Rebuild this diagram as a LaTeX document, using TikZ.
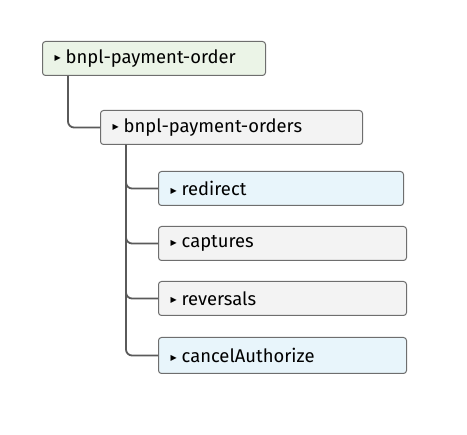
\documentclass[tikz,border=0pt]{standalone}
\usepackage{fontspec}
\setmainfont{Fira Sans}
\newfontfamily\symfont{DejaVu Sans}
\definecolor{bordercol}{HTML}{6E6E6E}
\definecolor{linecol}{HTML}{5A5A5A}
\definecolor{greenfill}{HTML}{EBF4E7}
\definecolor{grayfill}{HTML}{F3F3F3}
\definecolor{bluefill}{HTML}{E8F5FB}
\newcommand{\tri}{{\symfont\fontsize{8}{8}\selectfont\raisebox{2.5pt}{▶}}\hspace{5pt}}
\tikzset{
  box/.style={draw=bordercol, line width=1pt, rounded corners=3pt, anchor=north west,
    inner xsep=12pt, inner ysep=0pt, align=left, font=\fontsize{18.4}{20}\selectfont},
  conn/.style={draw=linecol, line width=1.8pt, rounded corners=6pt}
}
\begin{document}
\begin{tikzpicture}[x=1pt,y=-1pt]
\useasboundingbox (0,0) rectangle (467,435);
\node[box, fill=greenfill, text width=199pt, minimum height=34pt] (b1) at (42,41) {\tri bnpl-payment-order};
\node[box, fill=grayfill, text width=238pt, minimum height=34pt] (b2) at (100,110) {\tri bnpl-payment-orders};
\node[box, fill=bluefill, text width=221pt, minimum height=34pt] (c1) at (158,171) {\tri redirect};
\node[box, fill=grayfill, text width=224pt, minimum height=34pt] (c2) at (158,226) {\tri captures};
\node[box, fill=grayfill, text width=224pt, minimum height=34pt] (c3) at (158,281) {\tri reversals};
\node[box, fill=bluefill, text width=224pt, minimum height=36pt] (c4) at (158,337) {\tri cancelAuthorize};
\coordinate (s1) at ([xshift=26pt]b1.south west);
\coordinate (s2) at ([xshift=26pt]b2.south west);
\draw[conn] (s1) |- (b2.west);
\draw[conn] (s2) |- (c1.west);
\draw[conn] (s2) |- (c2.west);
\draw[conn] (s2) |- (c3.west);
\draw[conn] (s2) |- (c4.west);
\end{tikzpicture}
\end{document}
